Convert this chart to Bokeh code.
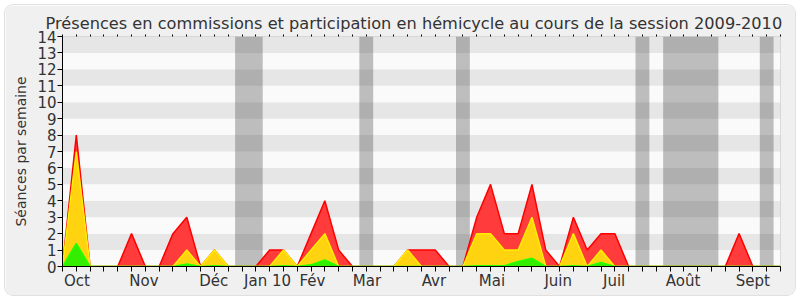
from bokeh.plotting import figure
from bokeh.models import FixedTicker, LinearAxis, Range1d
from bokeh.embed import file_html
from bokeh.resources import INLINE

weeks = list(range(53))
total = [0, 8, 0, 0, 0, 2, 0, 0, 2, 3, 0, 1, 0, 0, 0, 1, 1, 0, 2, 4, 1, 0, 0, 0, 0, 1, 1, 1, 0, 0,
         3, 5, 2, 2, 5, 1, 0, 3, 1, 2, 2, 0, 0, 0, 0, 0, 0, 0, 0, 2, 0, 0, 0]
commission = [0, 7, 0, 0, 0, 0, 0, 0, 0, 1, 0, 1, 0, 0, 0, 0, 1, 0, 1, 2, 0, 0, 0, 0, 0, 1, 0, 0, 0, 0,
              2, 2, 1, 1, 3, 0, 0, 2, 0, 1, 0, 0, 0, 0, 0, 0, 0, 0, 0, 0, 0, 0, 0]
hemicycle = [0, 1.4, 0, 0, 0, 0, 0, 0, 0, 0.15, 0, 0.05, 0, 0, 0, 0, 0.05, 0, 0.1, 0.4, 0, 0, 0, 0, 0, 0, 0, 0, 0, 0,
             0.05, 0.05, 0.05, 0.3, 0.5, 0, 0, 0.05, 0, 0.25, 0, 0, 0, 0, 0, 0, 0, 0, 0, 0, 0, 0, 0]
vac_start = [12.5, 21.5, 28.5, 41.5, 43.5, 50.5]
vac_end = [14.5, 22.5, 29.5, 42.5, 47.5, 51.5]
month_labels = ["Oct", "Nov", "Déc", "Jan 10", "Fév", "Mar", "Avr", "Mai", "Juin", "Juil", "Août", "Sept"]
month_pos = [1.05, 5.9, 10.95, 14.85, 18.1, 22.05, 26.9, 31.1, 35.9, 39.95, 44.95, 50.0]
y_max = 14

FONT = "DejaVu Sans"
TXT = "#333333"

p = figure(width=790, height=290, margin=(5, 5, 5, 5), output_backend="svg", toolbar_location=None,
           x_range=Range1d(0, 52), y_range=Range1d(0, y_max),
           min_border_left=57, min_border_right=15, min_border_top=31, min_border_bottom=29,
           styles={"border-radius": "8px", "overflow": "hidden",
                   "box-shadow": "0 0 0 1px #e0e0e0"})
p.border_fill_color = "#f0f0f0"
p.background_fill_color = "#fafafa"
p.outline_line_color = "#d0d0d0"
p.grid.visible = False

# horizontal stripes
stripe_b = list(range(y_max))
p.quad(left=0, right=52, bottom=stripe_b, top=[b + 1 for b in stripe_b],
       fill_color=["#fafafa" if b % 2 == 0 else "#e6e6e6" for b in stripe_b], line_color=None)

# holiday bands
p.quad(left=vac_start, right=vac_end, bottom=0, top=y_max,
       fill_color="#323232", fill_alpha=0.3, line_color=None)

# stacked areas
p.varea(x=weeks, y1=0, y2=total, fill_color="#ff3b3b")
p.line(x=weeks, y=total, line_color="#ff0000", line_width=1.5)
p.varea(x=weeks, y1=0, y2=commission, fill_color="#ffd30f")
p.line(x=weeks, y=commission, line_color="#ffee00", line_width=1.5)
p.varea(x=weeks, y1=0, y2=hemicycle, fill_color="#33ee00")
p.line(x=weeks, y=hemicycle, line_color="#22ff00", line_width=1.5)

# title
p.title.text = "Présences en commissions et participation en hémicycle au cours de la session 2009-2010"
p.title.text_font = FONT
p.title.text_font_size = "16.2px"
p.title.text_font_style = "normal"
p.title.text_color = TXT
p.title.align = "left"
p.title.offset = -17
p.title.standoff = 4

# x axis
xa = p.xaxis[0]
xa.ticker = FixedTicker(ticks=month_pos, minor_ticks=weeks)
xa.major_label_overrides = {pos: lab for pos, lab in zip(month_pos, month_labels)}
xa.major_tick_out = 0
xa.major_tick_in = 0
xa.minor_tick_out = 5
xa.minor_tick_in = 0
xa.minor_tick_line_color = "#000000"
xa.axis_line_color = "#000000"
xa.major_label_text_font = FONT
xa.major_label_text_font_size = "15px"
xa.major_label_text_color = TXT
xa.major_label_standoff = 0

# y axis
ya = p.yaxis[0]
ya.ticker = FixedTicker(ticks=list(range(y_max + 1)))
ya.minor_tick_out = 0
ya.minor_tick_in = 0
ya.major_tick_out = 5
ya.major_tick_in = 0
ya.major_tick_line_color = "#000000"
ya.axis_line_color = "#000000"
ya.major_label_text_font = FONT
ya.major_label_text_font_size = "15px"
ya.major_label_text_color = TXT
ya.major_label_standoff = 1
ya.axis_label = "Séances par semaine"
ya.axis_label_text_font = FONT
ya.axis_label_text_font_size = "14px"
ya.axis_label_text_font_style = "normal"
ya.axis_label_text_color = TXT
ya.axis_label_standoff = 5

# top dotted ticks
ta = LinearAxis(ticker=FixedTicker(ticks=weeks),
                major_label_overrides={w: "" for w in weeks},
                axis_line_color=None, major_tick_out=2, major_tick_in=0,
                major_tick_line_color="#000000", minor_tick_out=0, minor_tick_in=0,
                major_label_standoff=0)
p.add_layout(ta, "above")

open("out.html", "w").write(file_html(p, INLINE))
